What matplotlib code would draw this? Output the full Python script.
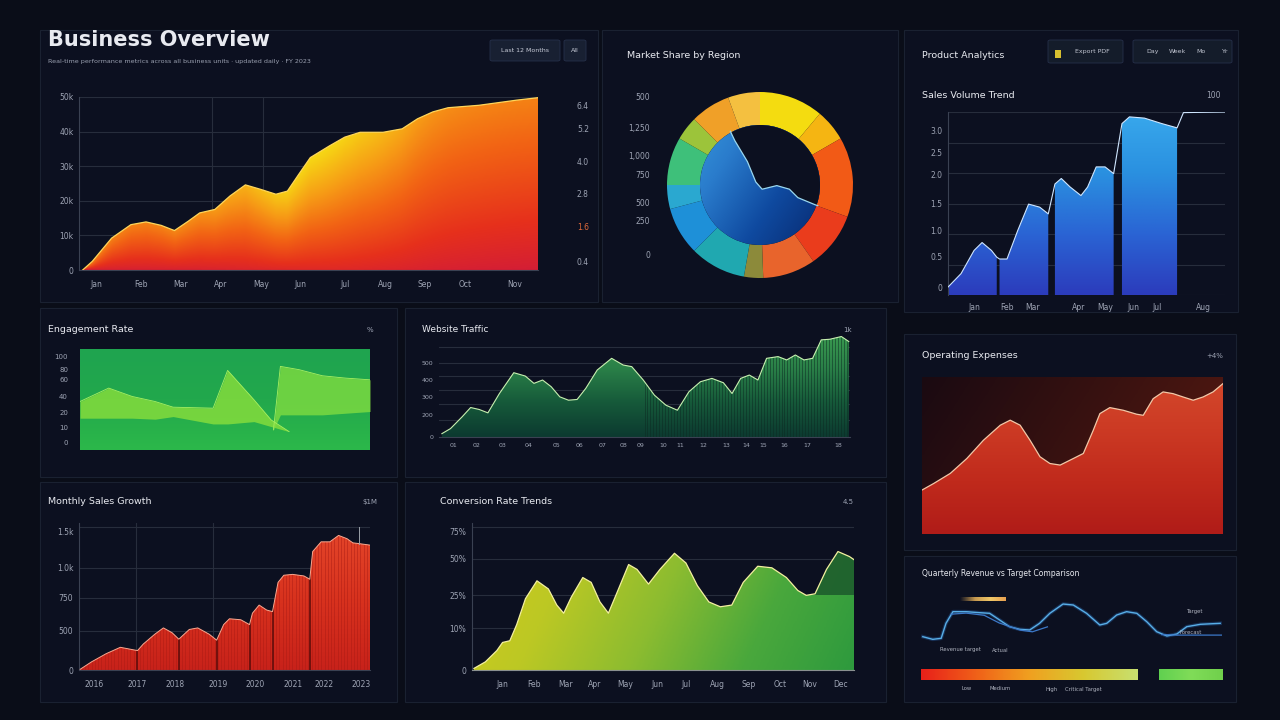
import numpy as np
import matplotlib
matplotlib.use("Agg")
import matplotlib.pyplot as plt
from matplotlib.patches import Polygon, Rectangle, Circle, FancyBboxPatch
from matplotlib.colors import LinearSegmentedColormap

# ---------------- DATA ----------------
# Panel 1: revenue area (x = fraction of period, y = revenue in k)
rev_x = [0.008, 0.029, 0.071, 0.113, 0.146, 0.179, 0.208, 0.238, 0.263, 0.296, 0.329, 0.3625, 0.396, 0.429,
         0.454, 0.479, 0.504, 0.546, 0.579, 0.6125, 0.6625, 0.704, 0.7375, 0.771, 0.804, 0.871, 0.954, 1.0]
rev_y = [0, 2.5, 9.2, 13.1, 13.9, 12.9, 11.4, 14.1, 16.5, 17.5, 21.4, 24.6, 23.3, 21.9,
         22.8, 27.7, 32.5, 35.9, 38.4, 39.8, 39.8, 40.8, 43.7, 45.7, 46.9, 47.6, 49.1, 49.8]
rev_yticks = [0, 10, 20, 30, 40, 50]
rev_ylabels = ["0", "10k", "20k", "30k", "40k", "50k"]
rev_right_labels = ["0.4", "1.6", "2.8", "4.0", "5.2", "6.4"]
rev_xtick_pos = [0.037, 0.135, 0.222, 0.309, 0.396, 0.483, 0.580, 0.667, 0.754, 0.841, 0.95]
rev_xlabels = ["Jan", "Feb", "Mar", "Apr", "May", "Jun", "Jul", "Aug", "Sep", "Oct", "Nov"]
rev_vgrid = [0.29, 0.40]

# Panel 2: donut shares (degrees) and colours
share_vals = [40, 20, 50, 35, 33, 12, 35, 30, 15, 30, 15, 25, 20]
share_colors = ["#f4dc10", "#f5b512", "#f25a16", "#ea3c1c", "#e8642c", "#8c8a3a", "#20a8b0",
                "#1e90d8", "#2aa8d0", "#3ec07a", "#9cc43a", "#f0a028", "#f4c040"]
donut_labels = ["500", "1,250", "1,000", "750", "500", "250", "0"]
donut_label_y = [97, 128, 156, 175, 204, 222, 255]
inner_x = [-0.35, -0.318, -0.252, -0.126, -0.042, 0.021, 0.168, 0.294, 0.378, 0.552, 0.70]
inner_y = [0.70, 0.582, 0.444, 0.234, 0.03, -0.042, -0.006, -0.042, -0.126, -0.198, -0.25]

# Panel 3: blue segmented area
seg_x = [[0.0, 0.047, 0.094, 0.123, 0.157, 0.176],
         [0.186, 0.213, 0.252, 0.291, 0.331, 0.362],
         [0.386, 0.409, 0.441, 0.480, 0.504, 0.535, 0.567, 0.598],
         [0.628, 0.655, 0.709, 0.772, 0.827]]
seg_y = [[0.13, 0.35, 0.73, 0.86, 0.73, 0.62],
         [0.59, 0.59, 1.06, 1.49, 1.44, 1.33],
         [1.82, 1.91, 1.77, 1.63, 1.77, 2.10, 2.10, 1.99],
         [2.81, 2.92, 2.90, 2.81, 2.74]]
tail_x = [0.827, 0.850, 1.0]
tail_y = [2.74, 2.99, 3.0]
blue_yticks = [0.12, 0.63, 1.05, 1.5, 1.98, 2.34, 2.7]
blue_ylabels = ["0", "0.5", "1.0", "1.5", "2.0", "2.5", "3.0"]
blue_xtick_pos = [0.094, 0.213, 0.307, 0.472, 0.567, 0.669, 0.756, 0.921]
blue_xlabels = ["Jan", "Feb", "Mar", "Apr", "May", "Jun", "Jul", "Aug"]

# Panel 4: engagement layers
eng1_x = [0, 0.099, 0.18, 0.259, 0.321, 0.459, 0.509, 0.6, 0.659, 0.721]
eng1_top = [0.48, 0.613, 0.53, 0.48, 0.424, 0.414, 0.788, 0.497, 0.298, 0.182]
eng1_bot = [0.315, 0.315, 0.315, 0.305, 0.331, 0.258, 0.258, 0.281, 0.232, 0.182]
eng2_x = [0.667, 0.691, 0.756, 0.836, 0.915, 1.0]
eng2_top = [0.199, 0.828, 0.795, 0.735, 0.712, 0.695]
eng2_bot = [0.199, 0.348, 0.348, 0.348, 0.364, 0.381]
eng_labels = ["100", "80", "60", "40", "20", "10", "0"]
eng_label_y = [357, 370, 380, 397, 413, 428, 443]

# Panel 5: website traffic
web_x = [0.007, 0.028, 0.056, 0.077, 0.098, 0.119, 0.147, 0.182, 0.210, 0.231, 0.252, 0.273, 0.294, 0.315,
         0.336, 0.357, 0.385, 0.420, 0.448, 0.469, 0.497, 0.524, 0.552, 0.580, 0.608, 0.636, 0.664, 0.692,
         0.713, 0.734, 0.755, 0.776, 0.797, 0.825, 0.846, 0.867, 0.888, 0.909, 0.930, 0.951, 0.979, 0.997]
web_y = [0.037, 0.093, 0.222, 0.326, 0.304, 0.267, 0.481, 0.711, 0.674, 0.593, 0.630, 0.556, 0.444, 0.407,
         0.415, 0.537, 0.741, 0.870, 0.796, 0.778, 0.630, 0.463, 0.352, 0.296, 0.500, 0.611, 0.648, 0.600,
         0.481, 0.648, 0.685, 0.630, 0.870, 0.889, 0.852, 0.907, 0.852, 0.870, 1.074, 1.081, 1.111, 1.056]
web_grid = [0.19, 0.36, 0.52, 0.67, 0.82, 1.0]
web_yticks = [0.0, 0.24, 0.44, 0.63, 0.82]
web_ylabels = ["0", "200", "300", "400", "500"]
web_xtick_pos = [0.035, 0.091, 0.154, 0.217, 0.287, 0.343, 0.399, 0.448, 0.490, 0.545, 0.587, 0.643,
                 0.699, 0.748, 0.790, 0.839, 0.895, 0.972]
web_xlabels = ["%02d" % (i + 1) for i in range(18)]

# Panel 6: operating expenses
opx_x = [0, 0.039, 0.094, 0.149, 0.204, 0.260, 0.293, 0.326, 0.359, 0.392, 0.425, 0.459, 0.481, 0.503,
         0.536, 0.569, 0.591, 0.624, 0.669, 0.713, 0.735, 0.768, 0.801, 0.834, 0.867, 0.901, 0.934, 0.967, 1.0]
opx_y = [0.280, 0.322, 0.386, 0.481, 0.597, 0.693, 0.725, 0.693, 0.597, 0.492, 0.449, 0.439, 0.460, 0.481,
         0.513, 0.661, 0.767, 0.805, 0.788, 0.763, 0.756, 0.862, 0.905, 0.894, 0.873, 0.852, 0.873, 0.905, 0.958]

# Panel 7: monthly sales growth
sal_x = [0.004, 0.043, 0.093, 0.142, 0.201, 0.221, 0.260, 0.290, 0.320, 0.343, 0.379, 0.408, 0.448, 0.473,
         0.497, 0.517, 0.556, 0.586, 0.596, 0.619, 0.645, 0.665, 0.684, 0.704, 0.734, 0.773, 0.793, 0.803,
         0.832, 0.862, 0.892, 0.921, 0.941, 0.961, 1.0]
sal_y = [0.005, 0.057, 0.114, 0.159, 0.136, 0.182, 0.25, 0.295, 0.261, 0.216, 0.284, 0.295, 0.25, 0.209,
         0.318, 0.359, 0.352, 0.318, 0.398, 0.455, 0.420, 0.409, 0.614, 0.664, 0.670, 0.659, 0.636, 0.830,
         0.898, 0.898, 0.943, 0.920, 0.891, 0.886, 0.875]
sal_drops = [0.201, 0.343, 0.473, 0.586, 0.665, 0.793]
sal_yticks = [0.0, 0.275, 0.505, 0.716, 0.97]
sal_ylabels = ["0", "500", "750", "1.0k", "1.5k"]
sal_xtick_pos = [0.053, 0.201, 0.329, 0.477, 0.605, 0.734, 0.842, 0.970]
sal_xlabels = ["2016", "2017", "2018", "2019", "2020", "2021", "2022", "2023"]

# Panel 8: conversion rate
cvr_x = [0.005, 0.035, 0.065, 0.080, 0.099, 0.117, 0.140, 0.170, 0.200, 0.222, 0.240, 0.260, 0.290, 0.312,
         0.335, 0.357, 0.380, 0.410, 0.432, 0.462, 0.492, 0.530, 0.560, 0.590, 0.620, 0.650, 0.680, 0.710,
         0.748, 0.785, 0.823, 0.853, 0.875, 0.898, 0.928, 0.958, 0.988, 1.0]
cvr_y = [0.011, 0.057, 0.136, 0.193, 0.205, 0.318, 0.5, 0.625, 0.568, 0.455, 0.398, 0.511, 0.648, 0.614,
         0.477, 0.398, 0.545, 0.739, 0.705, 0.602, 0.705, 0.818, 0.75, 0.591, 0.477, 0.443, 0.455, 0.614,
         0.727, 0.716, 0.648, 0.557, 0.523, 0.534, 0.705, 0.830, 0.795, 0.773]
cvr_grid = [0.295, 0.523, 0.777, 1.0]
cvr_yticks = [0.0, 0.29, 0.52, 0.78, 0.97]
cvr_ylabels = ["0", "10%", "25%", "50%", "75%"]
cvr_xtick_pos = [0.080, 0.162, 0.245, 0.320, 0.402, 0.485, 0.560, 0.643, 0.725, 0.808, 0.883, 0.965]
cvr_xlabels = ["Jan", "Feb", "Mar", "Apr", "May", "Jun", "Jul", "Aug", "Sep", "Oct", "Nov", "Dec"]

# Panel 9: quarterly revenue vs target
act_x = [0.006, 0.039, 0.067, 0.083, 0.106, 0.15, 0.194, 0.228, 0.261, 0.294, 0.328, 0.361, 0.394, 0.428,
         0.472, 0.506, 0.55, 0.594, 0.617, 0.65, 0.683, 0.717, 0.75, 0.783, 0.817, 0.85, 0.883, 0.928, 0.994]
act_y = [0.151, 0.103, 0.121, 0.394, 0.606, 0.606, 0.588, 0.576, 0.455, 0.333, 0.285, 0.273, 0.394, 0.576,
         0.745, 0.727, 0.576, 0.364, 0.394, 0.545, 0.606, 0.576, 0.424, 0.242, 0.164, 0.2, 0.333, 0.376, 0.394]
tgt_x = [0.10, 0.15, 0.21, 0.26, 0.33, 0.37, 0.42, 0.60, 0.80, 0.85, 0.93, 1.0]
tgt_y = [0.56, 0.58, 0.54, 0.40, 0.27, 0.24, 0.33, float("nan"), 0.19, 0.18, 0.18, 0.18]
progress_vals = [0.72, 0.21]

# ---------------- STYLE HELPERS ----------------
W, H = 1280, 720
BG = "#0a0d18"
PANEL = "#0c1020"
TXT = "#e8eaf0"
TICK = "#9ea4b4"
GRID = "#272d3c"

fig = plt.figure(figsize=(12.8, 7.2), dpi=100, facecolor=BG)


def add_ax(x0, y0, x1, y1):
    ax = fig.add_axes([x0 / W, 1 - y1 / H, (x1 - x0) / W, (y1 - y0) / H])
    ax.set_facecolor("none")
    for s in ax.spines.values():
        s.set_visible(False)
    ax.tick_params(colors=TICK, labelsize=5.5, length=0, pad=4)
    return ax


def ftext(x, y, s, size=7, color=TXT, ha="left", weight="normal", **kw):
    fig.text(x / W, 1 - y / H, s, fontsize=size, color=color, ha=ha, va="center",
             weight=weight, **kw)


def frame(x0, y0, x1, y1, fc=PANEL, ec="#1a2131"):
    fig.patches.append(Rectangle((x0 / W, 1 - y1 / H), (x1 - x0) / W, (y1 - y0) / H,
                                 transform=fig.transFigure, fc=fc, ec=ec, lw=0.8, zorder=-2))


def button(x0, y0, x1, y1, fc="#182032"):
    fig.patches.append(FancyBboxPatch((x0 / W, 1 - y1 / H), (x1 - x0) / W, (y1 - y0) / H,
                                      boxstyle="round,pad=0,rounding_size=0.002",
                                      transform=fig.transFigure, fc=fc, ec="#26304a", lw=0.6, zorder=-1))


def area_patch(ax, x, y, base=0.0):
    verts = [(x[0], base)] + list(zip(x, y)) + [(x[-1], base)]
    p = Polygon(verts, closed=True, fc="none", ec="none")
    ax.add_patch(p)
    return p


def grad(ax, extent, colors, clip=None, func=None, zorder=2, alpha=1.0, n=(240, 120)):
    X, Y = np.meshgrid(np.linspace(0, 1, n[0]), np.linspace(0, 1, n[1]))
    v = Y if func is None else np.clip(func(X, Y), 0, 1)
    cmap = LinearSegmentedColormap.from_list("g", colors)
    img = cmap(v)
    img[..., 3] = alpha
    im = ax.imshow(img, extent=extent, origin="lower", aspect="auto",
                   interpolation="bilinear", zorder=zorder)
    if clip is not None:
        im.set_clip_path(clip)
    return im


# ---------------- PANEL FRAMES ----------------
frame(40, 30, 598, 302)
frame(602, 30, 898, 302)
frame(904, 30, 1238, 312)
frame(40, 308, 397, 477)
frame(405, 308, 886, 477)
frame(904, 334, 1236, 550)
frame(40, 482, 397, 702)
frame(405, 482, 886, 702)
frame(904, 556, 1236, 702)

# ---------------- PANEL 1: revenue ----------------
ftext(48, 40, "Business Overview", size=15, weight="bold")
ftext(48, 61, "Real-time performance metrics across all business units \u00b7 updated daily \u00b7 FY 2023",
      size=4.6, color="#9aa0b0")
button(490, 40, 560, 61)
ftext(525, 50.5, "Last 12 Months", size=4.5, color="#c8ccd8", ha="center")
button(564, 40, 586, 61)
ftext(575, 50.5, "All", size=4.5, color="#c8ccd8", ha="center")

ax1 = add_ax(79, 97, 538, 270)
p1 = area_patch(ax1, rev_x, rev_y)


def rev_color(X, Y):
    top = np.interp(X, rev_x, rev_y) / 50.0
    rel = np.clip(Y / np.maximum(top, 1e-3), 0, 1)
    g = 0.62 + 0.38 * np.exp(-((X - 0.52) / 0.2) ** 2)
    return (0.18 + 0.82 * rel ** 0.9) * g - 0.12 * np.clip(X - 0.7, 0, 1) * (1 - rel)


grad(ax1, [0, 1, 0, 50], ["#cc1640", "#e6301c", "#f26414", "#f7a016", "#f6d814"], clip=p1,
     func=rev_color)
ax1.plot(rev_x, rev_y, color="#ffd65a", lw=0.9, zorder=3)
ax1.set_xlim(0, 1)
ax1.set_ylim(0, 50)
ax1.set_yticks(rev_yticks)
ax1.set_yticklabels(rev_ylabels)
ax1.set_xticks(rev_xtick_pos)
ax1.set_xticklabels(rev_xlabels)
ax1.tick_params(axis="x", pad=7)
ax1.grid(True, axis="y", color=GRID, lw=0.8, zorder=0)
for g in rev_vgrid:
    ax1.axvline(g, color=GRID, lw=0.8, zorder=0)
ax1.spines["left"].set_visible(True)
ax1.spines["left"].set_color("#3a4152")
ax1.spines["bottom"].set_visible(True)
ax1.spines["bottom"].set_color("#3a4152")
ax1r = ax1.twinx()
ax1r.set_ylim(0, 50)
for s in ax1r.spines.values():
    s.set_visible(False)
ax1r.set_yticks([2.5, 12.5, 22, 31.5, 41, 47.5])
ax1r.set_yticklabels(rev_right_labels)
ax1r.tick_params(colors=TICK, labelsize=5.5, length=0, pad=28)
ax1r.get_yticklabels()[1].set_color("#e06a3a")

# ---------------- PANEL 2: donut ----------------
ftext(627, 55, "Market Share by Region", size=6.8)
ax2 = add_ax(660, 85, 860, 285)
ax2.pie(share_vals, colors=share_colors, startangle=90, counterclock=False, radius=0.93,
        wedgeprops=dict(width=0.33, edgecolor="none", linewidth=0))
inner = Circle((0, 0), 0.60, fc="none", ec="none")
ax2.add_patch(inner)
grad(ax2, [-0.6, 0.6, -0.6, 0.6], ["#082a70", "#0f4aa0", "#2a7ccc", "#3aa0e0"], clip=inner,
     func=lambda X, Y: 0.75 * (1 - X) * 0.7 + 0.35 * Y, zorder=3)
cover = Polygon(list(zip(inner_x, inner_y)) + [(0.7, 0.7)], closed=True, fc=PANEL, ec="none", zorder=4)
ax2.add_patch(cover)
cover.set_clip_path(inner)
ln, = ax2.plot(inner_x, inner_y, color="#9ad8f0", lw=0.9, zorder=5)
ln.set_clip_path(Circle((0, 0), 0.62, transform=ax2.transData))
ax2.set_xlim(-1, 1)
ax2.set_ylim(-1, 1)
ax2.set_aspect("auto")
ax2.set_xticks([])
ax2.set_yticks([])
for lab, yy in zip(donut_labels, donut_label_y):
    ftext(650, yy, lab, size=5.5, color=TICK, ha="right")

# ---------------- PANEL 3: blue bars ----------------
ftext(922, 55, "Product Analytics", size=6.8)
button(1048, 40, 1123, 63, fc="#141c2a")
fig.patches.append(Rectangle((1055 / W, 1 - 58 / H), 6 / W, 8 / H, transform=fig.transFigure,
                             fc="#d8c030", ec="none", zorder=2))
ftext(1092, 51.5, "Export PDF", size=4.5, color="#c0c4d0", ha="center")
button(1133, 40, 1232, 63, fc="#141c2a")
for i, lab in enumerate(["Day", "Week", "Mo", "Yr"]):
    ftext(1153 + i * 24, 51.5, lab, size=4.5, color="#c0c4d0", ha="center")
ftext(922, 95, "Sales Volume Trend", size=6.8)
ftext(1213, 95, "100", size=5.5, color=TICK, ha="center")

ax3 = add_ax(948, 112, 1225, 295)
for xs, ys in zip(seg_x, seg_y):
    p = area_patch(ax3, xs, ys)
    grad(ax3, [0, 1, 0, 3], ["#2c3cbc", "#2a64d4", "#2a90e0", "#38a8ec"], clip=p, zorder=2)
all_x = [v for xs in seg_x for v in xs] + tail_x[1:]
all_y = [v for ys in seg_y for v in ys] + tail_y[1:]
ax3.plot(all_x, all_y, color="#cfe6ff", lw=0.8, zorder=3)
ax3.set_xlim(0, 1)
ax3.set_ylim(0, 3.0)
for g in [0, 0.5, 1.0, 1.5, 2.0, 2.5, 3.0]:
    ax3.axhline(g, color=GRID, lw=0.8, zorder=0)
ax3.set_yticks(blue_yticks)
ax3.set_yticklabels(blue_ylabels)
ax3.set_xticks(blue_xtick_pos)
ax3.set_xticklabels(blue_xlabels)
ax3.tick_params(axis="x", pad=6)
ax3.spines["left"].set_visible(True)
ax3.spines["left"].set_color("#3a4152")

# ---------------- PANEL 4: engagement ----------------
ftext(48, 330, "Engagement Rate", size=6.8)
ftext(370, 330, "%", size=5, color=TICK, ha="center")
ax4 = add_ax(80, 349, 370, 450)
bgp = Rectangle((0, 0), 1, 1, fc="none", ec="none")
ax4.add_patch(bgp)
grad(ax4, [0, 1, 0, 1], ["#2cb84a", "#22a84c", "#1fa450"], clip=bgp, zorder=1)
ax4.fill_between(eng1_x, eng1_bot, eng1_top, color="#84dc3c", alpha=0.85, lw=0, zorder=2)
ax4.fill_between(eng2_x, eng2_bot, eng2_top, color="#80dc40", alpha=0.8, lw=0, zorder=2)
ax4.plot(eng1_x, eng1_top, color="#a8f060", lw=0.6, zorder=3)
ax4.plot(eng2_x, eng2_top, color="#a8f060", lw=0.6, zorder=3)
ax4.set_xlim(0, 1)
ax4.set_ylim(0, 1)
ax4.set_xticks([])
ax4.set_yticks([])
for lab, yy in zip(eng_labels, eng_label_y):
    ftext(68, yy, lab, size=5, color=TICK, ha="right")

# ---------------- PANEL 5: website traffic ----------------
ftext(422, 330, "Website Traffic", size=6.5)
ftext(848, 330, "1k", size=5, color=TICK, ha="center")
ax5 = add_ax(439, 333, 850, 437)
p5 = area_patch(ax5, web_x, web_y)
grad(ax5, [0, 1, 0, 1.15], ["#0c3a30", "#165a3a", "#2a8048", "#3a9a50"], clip=p5, zorder=2)
stripes = ax5.vlines(np.linspace(0.5, 1.0, 70), 0, 1.15, color="#0c2a22", lw=0.5, alpha=0.7, zorder=3)
stripes.set_clip_path(p5)
ax5.plot(web_x, web_y, color="#c8f0b0", lw=0.8, zorder=4)
for g in web_grid:
    ax5.axhline(g, color=GRID, lw=0.8, zorder=0)
ax5.set_xlim(0, 1)
ax5.set_ylim(0, 1.15)
ax5.set_yticks(web_yticks)
ax5.set_yticklabels(web_ylabels)
ax5.set_xticks(web_xtick_pos)
ax5.set_xticklabels(web_xlabels)
ax5.tick_params(labelsize=4.5)
ax5.spines["bottom"].set_visible(True)
ax5.spines["bottom"].set_color("#3a4152")

# ---------------- PANEL 6: operating expenses ----------------
ftext(922, 356, "Operating Expenses", size=6.8)
ftext(1215, 356, "+4%", size=5, color=TICK, ha="center")
ax6 = add_ax(922, 377, 1223, 534)
bg6 = Rectangle((0, 0), 1, 1, fc="none", ec="none")
ax6.add_patch(bg6)
grad(ax6, [0, 1, 0, 1], ["#1a0a12", "#3a1210", "#5a1a12"], clip=bg6,
     func=lambda X, Y: 0.75 * X + 0.25 * (1 - Y), zorder=1)
p6 = area_patch(ax6, opx_x, opx_y)
grad(ax6, [0, 1, 0, 1], ["#b01c18", "#c02a1c", "#cc3a24", "#d4492c"], clip=p6, zorder=2)
ax6.plot(opx_x, opx_y, color="#f2c8a8", lw=0.9, zorder=3)
ax6.set_xlim(0, 1)
ax6.set_ylim(0, 1)
ax6.set_xticks([])
ax6.set_yticks([])

# ---------------- PANEL 7: monthly sales ----------------
ftext(48, 502, "Monthly Sales Growth", size=6.8)
ftext(370, 502, "$1M", size=5, color=TICK, ha="center")
ax7 = add_ax(79, 523, 370, 670)
p7 = area_patch(ax7, sal_x, sal_y)
grad(ax7, [0, 1, 0, 1], ["#c8221a", "#d8321e", "#e4462a"], clip=p7, zorder=2)
st7 = ax7.vlines(np.linspace(0.01, 1.0, 90), 0, 1, color="#a81a14", lw=0.45, alpha=0.7, zorder=3)
st7.set_clip_path(p7)
dr7 = ax7.vlines(sal_drops, 0, 1, color="#5a0c0a", lw=1.1, zorder=3)
dr7.set_clip_path(p7)
ax7.plot(sal_x, sal_y, color="#f8a890", lw=0.7, zorder=4)
ax7.plot([0.961, 0.961], [0.886, 1.0], color="#9aa0a8", lw=0.7, zorder=4)
for g in [0.275, 0.505, 0.716, 1.0]:
    ax7.axhline(g, color=GRID, lw=0.8, zorder=0)
for g in [0.195, 0.462]:
    ax7.axvline(g, color=GRID, lw=0.8, zorder=0)
ax7.set_xlim(0, 1)
ax7.set_ylim(0, 1.03)
ax7.set_yticks(sal_yticks)
ax7.set_yticklabels(sal_ylabels)
ax7.set_xticks(sal_xtick_pos)
ax7.set_xticklabels(sal_xlabels)
ax7.tick_params(axis="x", pad=7)
ax7.spines["left"].set_visible(True)
ax7.spines["left"].set_color("#3a4152")
ax7.spines["bottom"].set_visible(True)
ax7.spines["bottom"].set_color("#3a4152")

# ---------------- PANEL 8: conversion rate ----------------
ftext(440, 502, "Conversion Rate Trends", size=6.8)
ftext(848, 502, "4.5", size=5, color=TICK, ha="center")
ax8 = add_ax(472, 523, 854, 670)
p8 = area_patch(ax8, cvr_x, cvr_y)
grad(ax8, [0, 1, 0, 1], ["#d2cc1c", "#bcc824", "#8cbc30", "#4aa83c", "#2e9a3e"], clip=p8,
     func=lambda X, Y: 0.85 * X + 0.15 * (1 - Y), zorder=2)
dark8 = Rectangle((0.885, 0.523), 0.115, 0.5, fc="#1c5a2c", ec="none", zorder=3, alpha=0.85)
ax8.add_patch(dark8)
dark8.set_clip_path(p8)
ax8.plot(cvr_x, cvr_y, color="#f4f0a0", lw=0.9, zorder=4)
for g in cvr_grid:
    ax8.axhline(g, color=GRID, lw=0.8, zorder=0)
ax8.set_xlim(0, 1)
ax8.set_ylim(0, 1.03)
ax8.set_yticks(cvr_yticks)
ax8.set_yticklabels(cvr_ylabels)
ax8.set_xticks(cvr_xtick_pos)
ax8.set_xticklabels(cvr_xlabels)
ax8.tick_params(axis="x", pad=7)
ax8.spines["left"].set_visible(True)
ax8.spines["left"].set_color("#3a4152")
ax8.spines["bottom"].set_visible(True)
ax8.spines["bottom"].set_color("#8a9090")

# ---------------- PANEL 9: quarterly lines ----------------
ftext(922, 574, "Quarterly Revenue vs Target Comparison", size=5.5)
ax9 = add_ax(921, 590, 1222, 645)
hl = Rectangle((0.13, 0.80), 0.15, 0.08, fc="none", ec="none")
ax9.add_patch(hl)
grad(ax9, [0.13, 0.28, 0.80, 0.88], [PANEL, "#c89a50", "#f0c868", "#e8a050"], clip=hl,
     func=lambda X, Y: X, zorder=2)
ax9.plot(act_x, act_y, color="#2a6ab8", lw=2.6, alpha=0.35, zorder=3)
ax9.plot(act_x, act_y, color="#58aee6", lw=1.0, zorder=4)
ax9.plot(tgt_x, tgt_y, color="#3c78c8", lw=0.9, zorder=4)
ax9.set_xlim(0, 1)
ax9.set_ylim(0, 1)
ax9.set_xticks([])
ax9.set_yticks([])
ftext(940, 650, "Revenue target", size=3.8, color="#b0b4c0")
ftext(992, 650, "Actual", size=3.8, color="#b0b4c0")
ftext(1187, 611, "Target", size=3.8, color="#b0b4c0")
ftext(1180, 633, "Forecast", size=3.8, color="#b0b4c0")

ax10 = add_ax(921, 668, 1222, 681)
bar1 = Rectangle((0, 0.1), progress_vals[0], 0.8, fc="none", ec="none")
ax10.add_patch(bar1)
grad(ax10, [0, progress_vals[0], 0.1, 0.9], ["#e8201a", "#f06018", "#f0a020", "#d8c830", "#c8e070"],
     clip=bar1, func=lambda X, Y: X, zorder=2)
bar2 = Rectangle((1 - progress_vals[1], 0.1), progress_vals[1], 0.8, fc="none", ec="none")
ax10.add_patch(bar2)
grad(ax10, [1 - progress_vals[1], 1, 0.1, 0.9], ["#60d050", "#80dc58", "#70d04c"], clip=bar2,
     func=lambda X, Y: X, zorder=2)
ax10.set_xlim(0, 1)
ax10.set_ylim(0, 1)
ax10.set_xticks([])
ax10.set_yticks([])
ftext(962, 689, "Low", size=3.8, color="#b0b4c0")
ftext(990, 689, "Medium", size=3.8, color="#b0b4c0")
ftext(1045, 689, "High", size=3.8, color="#b0b4c0")
ftext(1065, 689, "Critical Target", size=3.8, color="#b0b4c0")

fig.savefig("out.png", dpi=100, facecolor=BG)
